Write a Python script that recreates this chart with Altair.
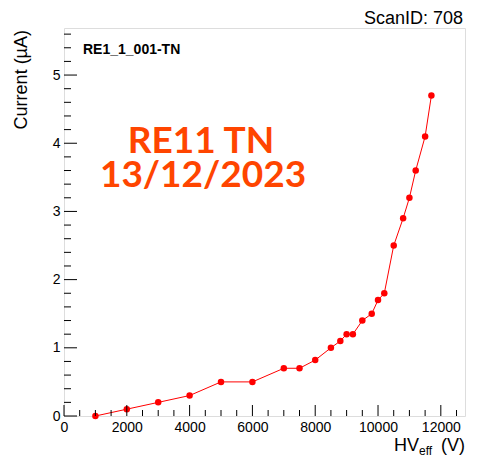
import altair as alt
import pandas as pd
import numpy as np

# ---- data ----
hv = [1000, 2000, 3000, 4000, 5000, 6000, 7000, 7500, 8000, 8500, 8800, 9000,
      9200, 9500, 9800, 10000, 10200, 10500, 10800, 11000, 11200, 11500, 11700]
cur = [0.0, 0.1, 0.2, 0.3, 0.5, 0.5, 0.7, 0.7, 0.82, 1.0, 1.1, 1.2,
       1.2, 1.4, 1.5, 1.7, 1.8, 2.5, 2.9, 3.2, 3.6, 4.1, 4.7]

x_major = [0, 2000, 4000, 6000, 8000, 10000, 12000]
x_minor = [v for v in range(500, 12800, 500) if v % 2000 != 0]
y_major = [0, 1, 2, 3, 4, 5]
y_minor = [round(v, 1) for v in np.arange(0.2, 5.7, 0.2) if abs(v - round(v)) > 1e-6]

title_right = "ScanID: 708"
label_box = "RE1_1_001-TN"
big_line1 = "RE11 TN"
big_line2 = "13/12/2023"
y_title = "Current (µA)"

W, H = 401, 388
FONT = "Liberation Sans"

xs = alt.Scale(domain=[0, 12770], nice=False, zero=False)
ys = alt.Scale(domain=[0, 5.69], nice=False, zero=False)

df = pd.DataFrame({"hv": hv, "cur": cur})

xaxis = alt.Axis(values=x_major, labelFontSize=14, labelFont=FONT, labelColor="#000",
                 ticks=False, domain=False, grid=False, title=None, labelPadding=4,
                 labelFlush=False, labelOverlap=False, format="d")
yaxis = alt.Axis(values=y_major, labelFontSize=14, labelFont=FONT, labelColor="#000",
                 ticks=False, domain=False, grid=False, title=None, labelPadding=4,
                 labelFlush=False, labelOverlap=False, format="d")

line = alt.Chart(df).mark_line(color="#ff0000", strokeWidth=1).encode(
    x=alt.X("hv:Q", scale=xs, axis=xaxis),
    y=alt.Y("cur:Q", scale=ys, axis=yaxis),
)
pts = alt.Chart(df).mark_circle(color="#ff0000", size=42, opacity=1).encode(
    x=alt.X("hv:Q", scale=xs, axis=xaxis),
    y=alt.Y("cur:Q", scale=ys, axis=yaxis),
)

def yticks(vals, length):
    return alt.Chart(pd.DataFrame({"v": vals})).mark_rule(color="#000", strokeWidth=1).encode(
        y=alt.Y("v:Q", scale=ys, axis=yaxis), x=alt.value(0), x2=alt.value(length))

def xticks(vals, length):
    return alt.Chart(pd.DataFrame({"v": vals})).mark_rule(color="#000", strokeWidth=1).encode(
        x=alt.X("v:Q", scale=xs, axis=xaxis), y=alt.value(H), y2=alt.value(H - length))

def txt(s, x, y, **kw):
    return alt.Chart(pd.DataFrame({"t": [s]})).mark_text(**kw).encode(
        text="t:N", x=alt.value(x), y=alt.value(y))

layers = [
    line, pts,
    yticks(y_major, 13), yticks(y_minor, 7),
    xticks(x_major, 11), xticks(x_minor, 6),
    txt(title_right, 399, -4.5, font=FONT, fontSize=18, align="right", baseline="alphabetic", color="#000"),
    txt(label_box, 19, 26, font=FONT, fontSize=14, fontWeight="bold", align="left", baseline="alphabetic", color="#000"),
    txt(big_line1, 137, 125, font="Lato", fontSize=37, fontWeight="bold", align="center", baseline="alphabetic", color="#ff4500"),
    txt(big_line2, 139, 159, font="Lato", fontSize=37, fontWeight="bold", align="center", baseline="alphabetic", color="#ff4500"),
    txt(y_title, -37, 2, font=FONT, fontSize=18, angle=270, align="right", baseline="alphabetic", color="#000"),
    txt("HV", 330, 423, font=FONT, fontSize=18, align="left", baseline="alphabetic", color="#000"),
    txt("eff", 355, 427, font=FONT, fontSize=12, align="left", baseline="alphabetic", color="#000"),
    txt("(V)", 401, 423, font=FONT, fontSize=18, align="right", baseline="alphabetic", color="#000"),
]

chart = alt.layer(*layers).properties(
    width=W, height=H,
    padding={"left": 56, "top": 20, "right": 12, "bottom": 43},
    autosize=alt.AutoSizeParams(type="none"),
).configure_view(stroke="#000", strokeWidth=1).configure(background="white")

chart.save("out.html", embed_options={"renderer": "svg", "actions": False})
